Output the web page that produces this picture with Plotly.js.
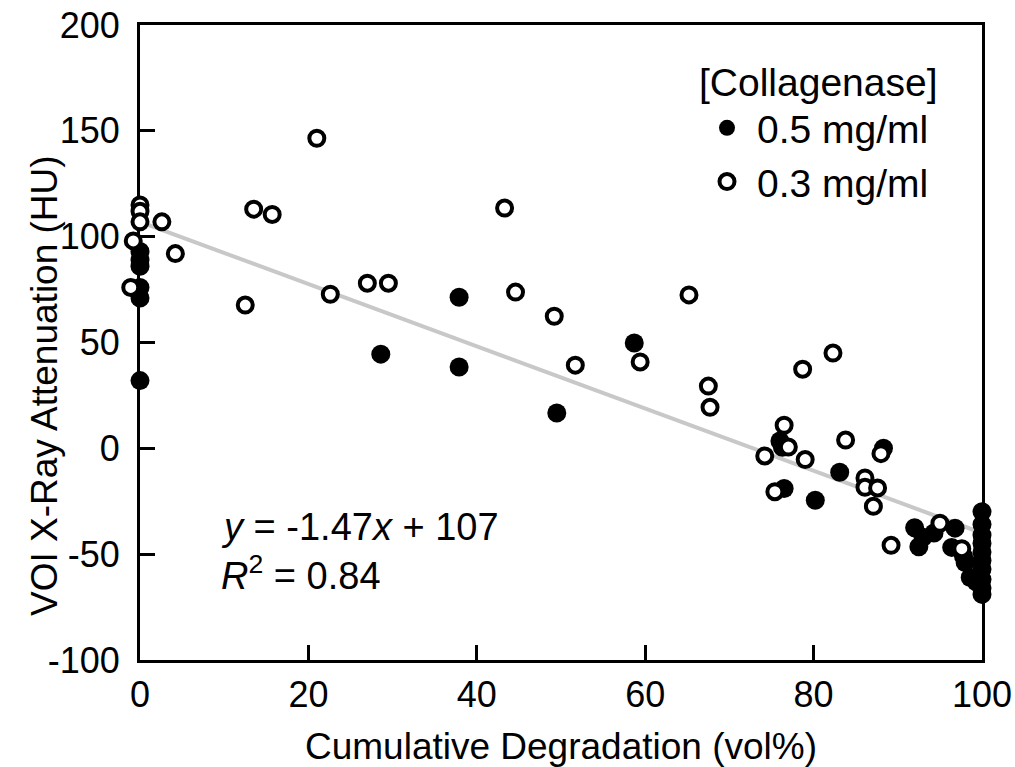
<!DOCTYPE html>
<html>
<head>
<meta charset="utf-8">
<script src="https://cdn.plot.ly/plotly-3.0.1.min.js"></script>
<style>html,body{margin:0;padding:0;background:#fff;}#chart{width:1015px;height:767px;}</style>
</head>
<body>
<div id="chart"></div>
<script>
// 0.5 mg/ml collagenase (filled circles)
const highX = [0, 0, 0, 0, 0, 0, 28.6, 37.9, 37.9, 49.5, 58.7, 76.0, 76.3, 76.5, 83.1, 80.2, 88.3,
  92.0, 92.5, 93.0, 94.3, 96.8, 96.4, 97.8, 98.0, 98.6, 99.3,
  100, 100, 100, 100, 100, 100, 100, 100, 100, 100];
const highY = [93, 89, 86, 76, 71, 32, 44.5, 71.4, 38.4, 16.7, 49.8, 3.5, 0.5, -19, -11.3, -24.5, 0,
  -37.5, -46.5, -42, -40, -37.7, -46.8, -51, -54, -61, -63,
  -30, -36, -41, -45, -49, -53, -57, -62, -66, -69];

// 0.3 mg/ml collagenase (open circles)
const lowX = [0, 0, 0, 2.6, -0.8, 4.2, -1.1, 12.5, 13.5, 15.7, 21.0, 22.6, 27.0, 29.5,
  43.3, 44.6, 49.2, 51.7, 59.4, 65.2, 67.5, 67.7, 74.2, 76.5, 77.0, 75.4, 78.7, 79.0,
  82.3, 83.8, 86.1, 86.1, 87.1, 87.6, 88.0, 89.2, 95.0, 97.6];
const lowY = [115, 112, 107, 107, 98, 92, 76, 67.7, 113, 110.5, 146.5, 72.8, 78, 78,
  113.5, 73.8, 62.4, 39.3, 40.8, 72.5, 29.4, 19.4, -3.6, 10.9, 0.6, -20.5, 37.4, -5.3,
  45, 3.9, -14, -18.4, -27.4, -18.7, -2.5, -45.8, -35.4, -47.4];

// linear fit line endpoints
const fitX = [0, 100];
const fitY = [107, -40];

const xTicks = [0, 20, 40, 60, 80, 100];
const yTicks = [-100, -50, 0, 50, 100, 150, 200];

const FONT = 'Liberation Sans, Arial, sans-serif';
const TICK_FS = 36, TITLE_FS = 37, LEG_FS = 39, ANN_FS = 38;

// geometry: frame starts 20px right of the paper margin so points slightly below x=0 stay visible
const W = 1015, H = 767, ML = 120, MR = 33, MT = 25, MB = 107;
const plotW = W - ML - MR, plotH = H - MT - MB;
const pad = 20;
const xRange = [0, 100];
const unitPx = (plotW - pad) / (xRange[1] - xRange[0]);
const x2Range = [xRange[0] - pad / unitPx, xRange[1]];

const traces = [
  {x: fitX, y: fitY, mode: 'lines', line: {color: '#c8c8c8', width: 4}, showlegend: false, hoverinfo: 'skip'},
  {x: highX, y: highY, mode: 'markers', name: '0.5 mg/ml', cliponaxis: false,
   marker: {symbol: 'circle', size: 19, color: '#000', line: {color: '#000', width: 0}}},
  {x: lowX, y: lowY, xaxis: 'x2', yaxis: 'y', mode: 'markers', name: '0.3 mg/ml', cliponaxis: false,
   marker: {symbol: 'circle', size: 15, color: '#fff', line: {color: '#000', width: 4}}}
];

const axisCommon = {
  showline: true, linecolor: '#000', linewidth: 3, mirror: true,
  ticks: 'inside', ticklen: 15, tickwidth: 3, tickcolor: '#000',
  showgrid: false, zeroline: false, layer: 'below traces',
  tickfont: {family: FONT, size: TICK_FS, color: '#000'}
};

const layout = {
  width: W, height: H,
  margin: {l: ML, r: MR, t: MT, b: MB},
  paper_bgcolor: '#fff', plot_bgcolor: 'rgba(0,0,0,0)',
  font: {family: FONT, size: TICK_FS, color: '#000'},
  xaxis: Object.assign({}, axisCommon, {
    domain: [pad / plotW, 1],
    range: xRange, tickvals: xTicks, ticktext: xTicks.map(String),
    ticklabelstandoff: 1,
    title: {text: 'Cumulative Degradation (vol%)', font: {family: FONT, size: TITLE_FS, color: '#000'}, standoff: 22}
  }),
  xaxis2: {domain: [0, 1], range: x2Range, visible: false, anchor: 'y', showgrid: false, zeroline: false},
  yaxis: Object.assign({}, axisCommon, {
    anchor: 'x',
    range: [-100, 200], tickvals: yTicks, ticktext: yTicks.map(String),
    ticklabelstandoff: 10
  }),
  legend: {
    x: (697 - ML) / plotW, y: 0.968, xanchor: 'left', yanchor: 'top',
    bgcolor: 'rgba(0,0,0,0)', borderwidth: 0,
    font: {family: FONT, size: LEG_FS, color: '#000'},
    title: {text: '[Collagenase]', font: {family: FONT, size: LEG_FS, color: '#000'}},
    tracegroupgap: 0, itemsizing: 'trace', itemwidth: 50
  },
  annotations: [
    {xref: 'paper', yref: 'paper', x: (45 - ML) / plotW, y: (H - MB - 386) / plotH,
     xanchor: 'center', yanchor: 'middle', textangle: -90, showarrow: false,
     text: 'VOI X-Ray Attenuation (HU)', font: {family: FONT, size: TITLE_FS, color: '#000'}},
    {xref: 'x', yref: 'y', x: 9.4, y: -37, xanchor: 'left', yanchor: 'middle', showarrow: false,
     text: '<i>y</i> = -1.47<i>x</i> + 107', font: {family: FONT, size: ANN_FS, color: '#000'}},
    {xref: 'x', yref: 'y', x: 9.4, y: -59, xanchor: 'left', yanchor: 'middle', showarrow: false,
     text: '<i>R</i><sup>2</sup> = 0.84', font: {family: FONT, size: ANN_FS, color: '#000'}}
  ],
  showlegend: true
};

Plotly.newPlot('chart', traces, layout, {staticPlot: true, displayModeBar: false});
</script>
</body>
</html>
